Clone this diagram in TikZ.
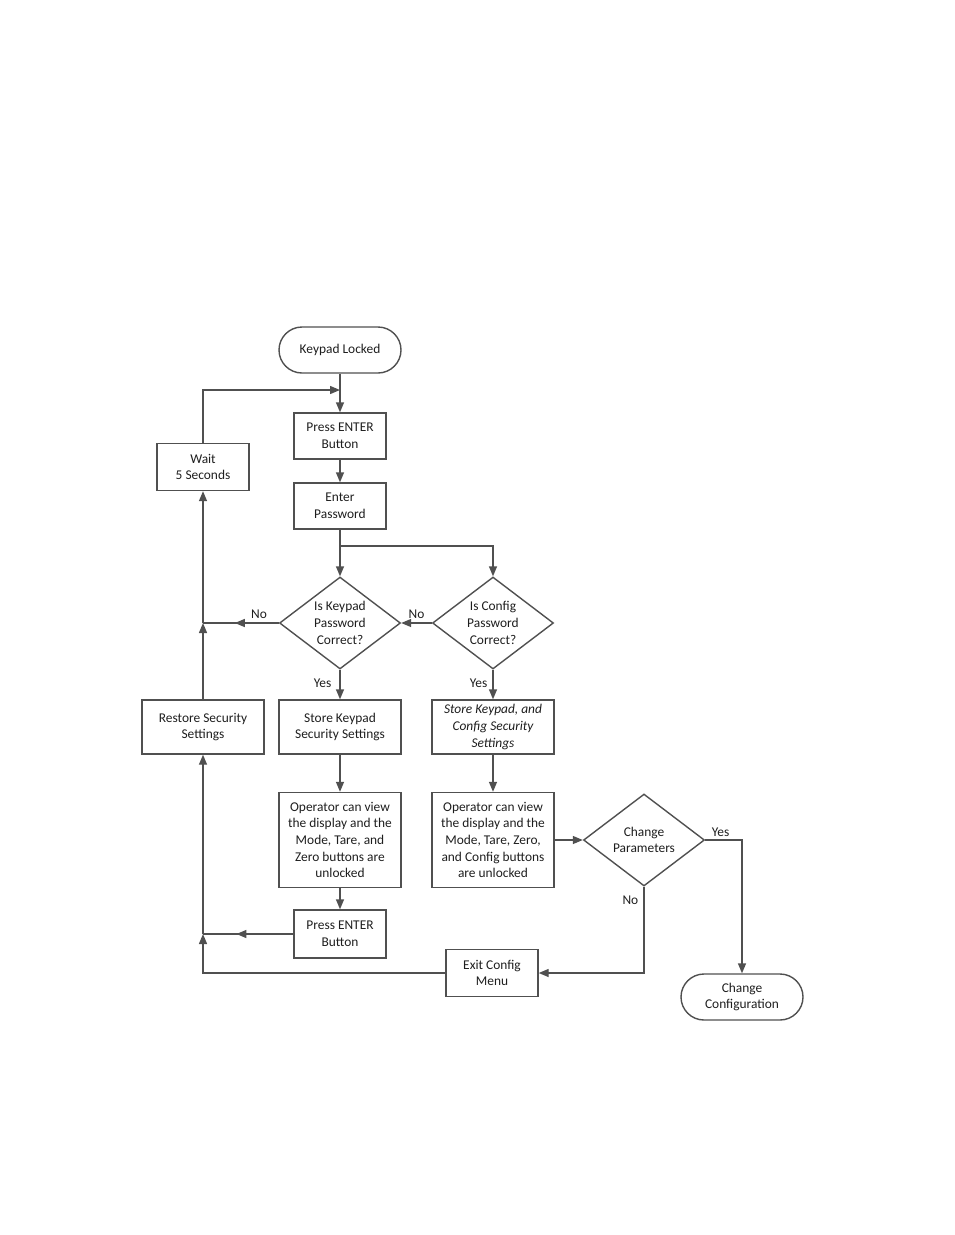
\documentclass[tikz,border=0pt]{standalone}
\usepackage{fontspec}
\setmainfont{Carlito}
\usetikzlibrary{arrows.meta,shapes.geometric,decorations.markings}
\definecolor{linegray}{HTML}{505050}
\definecolor{textgray}{HTML}{1E1E1E}
\newcommand\flowfont{\fontsize{13.4}{16.7}\selectfont}

\begin{document}
\begin{tikzpicture}[x=1pt,y=-1pt,
    every node/.style={font=\flowfont, text=textgray},
    procbox/.style={rectangle, draw=linegray, line width=1.4pt, align=center, inner sep=2pt},
    termbox/.style={procbox, rounded corners=23pt, minimum width=122pt, minimum height=46pt},
    decbox/.style={diamond, draw=linegray, line width=1.4pt, align=center, inner sep=0pt, aspect=1.3, minimum width=121pt, minimum height=92pt},
    flow/.style={draw=linegray, line width=1.4pt, -{Triangle[length=10pt,width=8pt]}},
    midflow/.style={draw=linegray, line width=1.4pt, postaction={decorate},
        decoration={markings, mark=at position #1 with {\arrow{Triangle[length=10pt,width=8pt]}}}},
    lbl/.style={inner sep=1pt}]
    \useasboundingbox (0,0) rectangle (954,1235);

    % Define vertices
    \node[termbox] (lock) at (340,350) {Keypad Locked};
    \node[procbox, minimum width=92pt, minimum height=46pt] (press1) at (340,436) {Press ENTER\\Button};
    \node[procbox, minimum width=92pt, minimum height=46pt] (passwd) at (340,506) {Enter\\Password};
    \node[procbox, minimum width=92pt, minimum height=47pt] (wait) at (203,467) {Wait\\5 Seconds};
    \node[decbox] (keyok) at (340,623) {Is Keypad\\Password\\Correct?};
    \node[decbox] (cfgok) at (493,623) {Is Config\\Password\\Correct?};
    \node[procbox, minimum width=122pt, minimum height=54pt] (restore) at (203,727) {Restore Security\\Settings};
    \node[procbox, minimum width=122pt, minimum height=54pt] (storekey) at (340,727) {Store Keypad\\Security Settings};
    \node[procbox, minimum width=122pt, minimum height=54pt, font=\flowfont\itshape] (storecfg) at (493,727) {Store Keypad, and\\Config Security\\Settings};
    \node[procbox, minimum width=122pt, minimum height=95pt] (viewkey) at (340,840) {Operator can view\\the display and the\\Mode, Tare, and\\Zero buttons are\\unlocked};
    \node[procbox, minimum width=122pt, minimum height=95pt] (viewcfg) at (493,840) {Operator can view\\the display and the\\Mode, Tare, Zero,\\and Config buttons\\are unlocked};
    \node[decbox] (chgpar) at (644,840) {Change\\Parameters};
    \node[procbox, minimum width=92pt, minimum height=48pt] (press2) at (340,934) {Press ENTER\\Button};
    \node[procbox, minimum width=92pt, minimum height=47pt] (exitcfg) at (492,973) {Exit Config\\Menu};
    \node[termbox] (chgcfg) at (742,997) {Change\\Configuration};

    % Junction points
    \coordinate (top) at (340,390);
    \coordinate (split) at (340,546);
    \coordinate (nokey) at (203,623);
    \coordinate (back) at (203,934);

    % Draw edges with arrows
    \draw[flow] (lock) -- (press1);
    \draw[flow] (press1) -- (passwd);
    \draw[flow] (passwd) -- (keyok);
    \draw[flow] (split) -| (cfgok.north);
    \draw[flow] (cfgok) -- (keyok) node[lbl, midway, above=3pt] {No};
    \draw[midflow=0.58] (keyok.west) -- (nokey) node[lbl, pos=0.26, above=3pt] {No};
    \draw[flow] (keyok) -- (storekey) node[lbl, pos=0.45, left=7pt] {Yes};
    \draw[flow] (cfgok) -- (storecfg) node[lbl, pos=0.45, left=4pt] {Yes};
    \draw[flow] (storekey) -- (viewkey);
    \draw[flow] (storecfg) -- (viewcfg);
    \draw[flow] (viewkey) -- (press2);
    \draw[flow] (viewcfg) -- (chgpar);
    \draw[flow] (chgpar.east) -| (chgcfg.north) node[lbl, pos=0.21, above=2pt] {Yes};
    \draw[flow] (chgpar.south) |- (exitcfg.east) node[lbl, pos=0.08, left=4pt] {No};
    \draw[flow] (exitcfg.west) -| (back);
    \draw[midflow=0.63] (press2.west) -- (back);
    \draw[flow] (back) -- (restore);
    \draw[flow] (restore) -- (nokey);
    \draw[flow] (nokey) -- (wait);
    \draw[flow] (wait) |- (top);
\end{tikzpicture}
\end{document}
